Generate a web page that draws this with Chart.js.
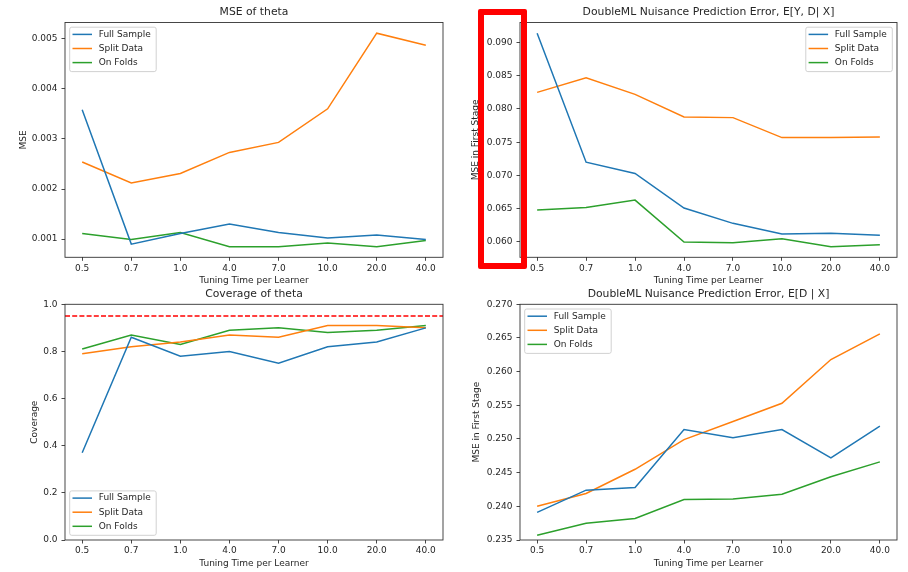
<!DOCTYPE html>
<html>
<head>
<meta charset="utf-8">
<script src="https://cdn.jsdelivr.net/npm/chart.js@4.4.0/dist/chart.umd.min.js"></script>
<style>
  html, body { margin: 0; padding: 0; background: #ffffff; }
  #page { position: relative; width: 908px; height: 572px; overflow: hidden; background: #ffffff; }
  #page canvas { position: absolute; display: block; }
  #mark {
    position: absolute; left: 478px; top: 9px; width: 49px; height: 260px;
    box-sizing: border-box; border: 6px solid #ff0000; border-radius: 2px;
  }
</style>
</head>
<body>
<div id="page">
  <canvas id="mseChart" width="454" height="290" style="left:0;top:0"></canvas>
  <canvas id="nuisYDChart" width="454" height="290" style="left:454px;top:0"></canvas>
  <canvas id="coverageChart" width="454" height="290" style="left:0;top:282px"></canvas>
  <canvas id="nuisDChart" width="454" height="290" style="left:454px;top:282px"></canvas>
  <div id="mark"></div>
</div>
<script>
// Tuning budgets (seconds per learner) used as x categories
const tuningTimes = ['0.5', '0.7', '1.0', '4.0', '7.0', '10.0', '20.0', '40.0'];
const seriesNames = ['Full Sample', 'Split Data', 'On Folds'];
const seriesColors = ['#1f77b4', '#ff7f0e', '#2ca02c'];

// MSE of theta
const mseFull  = [0.00358, 0.00090, 0.00111, 0.00130, 0.00113, 0.00102, 0.00108, 0.00099];
const mseSplit = [0.00254, 0.00212, 0.00231, 0.00273, 0.00293, 0.00360, 0.00511, 0.00487];
const mseFolds = [0.00111, 0.00099, 0.00113, 0.00085, 0.00085, 0.00092, 0.00085, 0.00097];
const mseTicks = [0.001, 0.002, 0.003, 0.004, 0.005];

// First-stage error for E[Y, D | X]
const nuisYDFull  = [0.0914, 0.0720, 0.0703, 0.0651, 0.0628, 0.0612, 0.0613, 0.0610];
const nuisYDSplit = [0.0825, 0.0847, 0.0822, 0.0788, 0.0787, 0.0757, 0.0757, 0.0758];
const nuisYDFolds = [0.0648, 0.0652, 0.0663, 0.0600, 0.0599, 0.0605, 0.0593, 0.0596];
const nuisYDTicks = [0.060, 0.065, 0.070, 0.075, 0.080, 0.085, 0.090];

// Coverage of theta
const coverageFull  = [0.37, 0.86, 0.78, 0.80, 0.75, 0.82, 0.84, 0.90];
const coverageSplit = [0.79, 0.82, 0.84, 0.87, 0.86, 0.91, 0.91, 0.90];
const coverageFolds = [0.81, 0.87, 0.83, 0.89, 0.90, 0.88, 0.89, 0.91];
const coverageTicks = [0.0, 0.2, 0.4, 0.6, 0.8, 1.0];
const nominalCoverage = 0.95;

// First-stage error for E[D | X]
const nuisDFull  = [0.2391, 0.2424, 0.2428, 0.2514, 0.2502, 0.2514, 0.2472, 0.2519];
const nuisDSplit = [0.2400, 0.2419, 0.2455, 0.2499, 0.2526, 0.2553, 0.2618, 0.2656];
const nuisDFolds = [0.2357, 0.2375, 0.2382, 0.2410, 0.2411, 0.2418, 0.2444, 0.2466];
const nuisDTicks = [0.235, 0.240, 0.245, 0.250, 0.255, 0.260, 0.265, 0.270];

const FONT = '"DejaVu Sans", sans-serif';
const TEXT = '#262626';
Chart.defaults.font.family = FONT;
Chart.defaults.font.size = 9;
Chart.defaults.color = TEXT;

// matplotlib-style autoscale: data range plus 5% on each side
function autoLimits(seriesList) {
  const all = seriesList.flat();
  const lo = Math.min(...all), hi = Math.max(...all);
  const pad = (hi - lo) * 0.05;
  return [lo - pad, hi + pad];
}

// Axes frame on all four sides
const framePlugin = {
  id: 'frame',
  afterDatasetsDraw(chart, args, opts) {
    const { ctx, chartArea: a } = chart;
    if (opts.refLine !== undefined && opts.refLine !== null) {
      const y = chart.scales.y.getPixelForValue(opts.refLine);
      ctx.save();
      ctx.strokeStyle = '#ff0000';
      ctx.lineWidth = 1.5;
      ctx.setLineDash([5, 2.2]);
      ctx.beginPath();
      ctx.moveTo(a.left, y);
      ctx.lineTo(a.right, y);
      ctx.stroke();
      ctx.restore();
    }
    ctx.save();
    ctx.strokeStyle = '#333333';
    ctx.lineWidth = 0.9;
    ctx.strokeRect(a.left, a.top, a.right - a.left, a.bottom - a.top);
    ctx.restore();
  }
};

// Title centred above the axes
const axesTitlePlugin = {
  id: 'axesTitle',
  afterDraw(chart, args, opts) {
    const { ctx, chartArea: a } = chart;
    ctx.save();
    ctx.font = '10.8px ' + FONT;
    ctx.fillStyle = TEXT;
    ctx.textAlign = 'center';
    ctx.textBaseline = 'middle';
    ctx.fillText(opts.text, (a.left + a.right) / 2, a.top - 10);
    ctx.restore();
  }
};

// Legend box drawn inside the axes
const innerLegendPlugin = {
  id: 'innerLegend',
  afterDraw(chart, args, opts) {
    const { ctx, chartArea: a } = chart;
    const ds = chart.data.datasets.filter(d => d.label);
    ctx.save();
    ctx.font = '9px ' + FONT;
    const maxW = Math.max(...ds.map(d => ctx.measureText(d.label).width));
    const w = 29 + maxW + 5.5;
    const h = 44.4;
    const gap = 4.7;
    let x = a.left + gap, y = a.top + gap;
    if (opts.position.includes('r')) x = a.right - gap - w;
    if (opts.position.startsWith('l')) y = a.bottom - gap - h;
    ctx.beginPath();
    ctx.roundRect(x, y, w, h, 2);
    ctx.fillStyle = 'rgba(255,255,255,0.8)';
    ctx.fill();
    ctx.strokeStyle = '#cccccc';
    ctx.lineWidth = 0.9;
    ctx.stroke();
    ds.forEach((d, i) => {
      const cy = y + 7.2 + i * 14.1;
      ctx.strokeStyle = d.borderColor;
      ctx.lineWidth = 1.5;
      ctx.beginPath();
      ctx.moveTo(x + 2.8, cy);
      ctx.lineTo(x + 22.3, cy);
      ctx.stroke();
      ctx.fillStyle = TEXT;
      ctx.textAlign = 'left';
      ctx.textBaseline = 'middle';
      ctx.fillText(d.label, x + 29, cy);
    });
    ctx.restore();
  }
};

function makePanel(cfg) {
  const canvas = document.getElementById(cfg.id);
  const cw = canvas.width, ch = canvas.height;
  const area = cfg.area; // chart area in canvas pixels
  const datasets = cfg.series.map((vals, i) => ({
    label: seriesNames[i],
    data: vals.map((v, k) => ({ x: k, y: v })),
    borderColor: seriesColors[i],
    backgroundColor: seriesColors[i],
    borderWidth: 1.5,
    pointRadius: 0,
    tension: 0,
    fill: false
  }));
  const tickGrid = {
    display: true, drawOnChartArea: false, drawTicks: true,
    tickLength: 3.5, tickColor: '#333333', tickWidth: 0.9
  };
  return new Chart(canvas, {
    type: 'line',
    data: { datasets },
    plugins: [framePlugin, axesTitlePlugin, innerLegendPlugin],
    options: {
      responsive: false,
      animation: false,
      devicePixelRatio: 1,
      layout: { padding: { left: 0, top: area.top, right: cw - area.right, bottom: 0 } },
      scales: {
        x: {
          type: 'linear',
          min: -0.35, max: tuningTimes.length - 1 + 0.35,
          afterBuildTicks: s => { s.ticks = tuningTimes.map((_, i) => ({ value: i })); },
          afterFit: s => { s.height = ch - area.bottom; },
          ticks: { callback: v => tuningTimes[v], padding: 2, maxRotation: 0, autoSkip: false, color: TEXT },
          grid: tickGrid,
          border: { display: false },
          title: { display: true, text: 'Tuning Time per Learner', color: TEXT,
                   font: { size: 9 }, padding: { top: 0, bottom: cfg.xTitlePad } }
        },
        y: {
          type: 'linear',
          min: cfg.yMin, max: cfg.yMax,
          afterBuildTicks: s => { s.ticks = cfg.yTicks.map(v => ({ value: v })); },
          afterFit: s => { s.width = area.left; },
          ticks: { callback: v => v.toFixed(cfg.decimals), padding: 4, color: TEXT },
          grid: tickGrid,
          border: { display: false },
          title: { display: true, text: cfg.yLabel, color: TEXT,
                   font: { size: 9 }, padding: { top: cfg.yTitlePad, bottom: 0 } }
        }
      },
      plugins: {
        legend: { display: false },
        title: { display: false },
        tooltip: { enabled: false },
        frame: { refLine: cfg.refLine },
        axesTitle: { text: cfg.title },
        innerLegend: { position: cfg.legend }
      }
    }
  });
}

const [mseMin, mseMax] = autoLimits([mseFull, mseSplit, mseFolds]);
makePanel({
  id: 'mseChart', title: 'MSE of theta', yLabel: 'MSE',
  series: [mseFull, mseSplit, mseFolds],
  yMin: mseMin, yMax: mseMax, yTicks: mseTicks, decimals: 3,
  area: { left: 65, top: 22.5, right: 443, bottom: 257.3 },
  xTitlePad: 3.6, yTitlePad: 17.9, legend: 'ul'
});

const [ydMin, ydMax] = autoLimits([nuisYDFull, nuisYDSplit, nuisYDFolds]);
makePanel({
  id: 'nuisYDChart', title: 'DoubleML Nuisance Prediction Error, E[Y, D| X]', yLabel: 'MSE in First Stage',
  series: [nuisYDFull, nuisYDSplit, nuisYDFolds],
  yMin: ydMin, yMax: ydMax, yTicks: nuisYDTicks, decimals: 3,
  area: { left: 66, top: 22.5, right: 443, bottom: 257.3 },
  xTitlePad: 3.6, yTitlePad: 16.6, legend: 'ur'
});

makePanel({
  id: 'coverageChart', title: 'Coverage of theta', yLabel: 'Coverage',
  series: [coverageFull, coverageSplit, coverageFolds],
  yMin: 0, yMax: 1, yTicks: coverageTicks, decimals: 1,
  area: { left: 65, top: 22.3, right: 443, bottom: 258 },
  xTitlePad: 2.6, yTitlePad: 29.3, legend: 'll', refLine: nominalCoverage
});

makePanel({
  id: 'nuisDChart', title: 'DoubleML Nuisance Prediction Error, E[D | X]', yLabel: 'MSE in First Stage',
  series: [nuisDFull, nuisDSplit, nuisDFolds],
  yMin: 0.235, yMax: 0.270, yTicks: nuisDTicks, decimals: 3,
  area: { left: 66, top: 22.3, right: 443, bottom: 258 },
  xTitlePad: 2.6, yTitlePad: 17.3, legend: 'ul'
});
</script>
</body>
</html>
